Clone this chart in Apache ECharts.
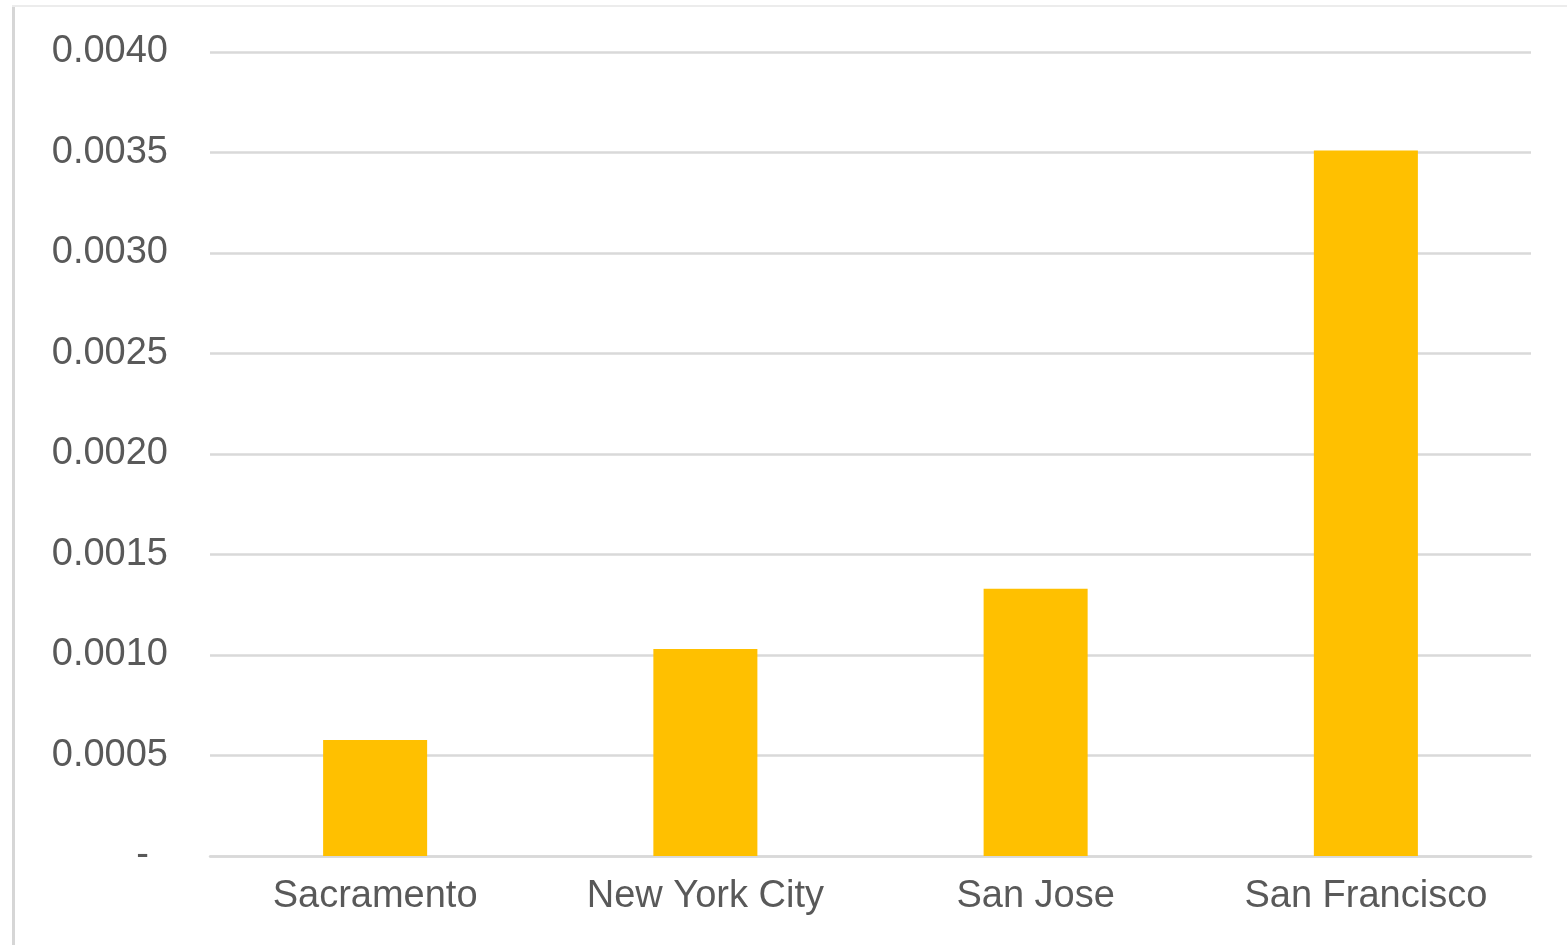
<!DOCTYPE html>
<html>
<head>
<meta charset="utf-8">
<script src="https://cdn.jsdelivr.net/npm/echarts@6/dist/echarts.min.js"></script>
<style>html,body{margin:0;padding:0;background:#fff;}#c{width:1567px;height:945px;}</style>
</head>
<body>
<div id="c"></div>
<script>
const categories = ['Sacramento', 'New York City', 'San Jose', 'San Francisco'];
const values = [0.000577, 0.00103, 0.00133, 0.00351];
const yTicks = [0, 0.0005, 0.001, 0.0015, 0.002, 0.0025, 0.003, 0.0035, 0.004];

const chart = echarts.init(document.getElementById('c'));
const FONT = 'Liberation Sans, Arial, sans-serif';
chart.setOption({
  animation: false,
  backgroundColor: '#fff',
  graphic: [
    { type: 'rect', shape: { x: 12, y: 5, width: 3, height: 940 }, style: { fill: '#d6d6d6' } },
    { type: 'rect', shape: { x: 12, y: 5, width: 1555, height: 2 }, style: { fill: '#ececec' } }
  ],
  grid: { left: 210, right: 36, top: 52, bottom: 89 },
  xAxis: {
    type: 'category',
    data: categories,
    axisLine: { lineStyle: { color: '#d9d9d9', width: 2.5 } },
    axisTick: { show: false },
    axisLabel: { color: '#595959', fontSize: 38, fontFamily: FONT, margin: 22 }
  },
  yAxis: {
    type: 'value',
    min: yTicks[0],
    max: yTicks[yTicks.length - 1],
    interval: 0.0005,
    axisLine: { show: false },
    axisTick: { show: false },
    splitLine: { lineStyle: { color: '#d9d9d9', width: 2.5 } },
    axisLabel: {
      color: '#595959', fontSize: 38, fontFamily: FONT, margin: 42,
      formatter: function (v) { return v === 0 ? '{d|-}' : v.toFixed(4); },
      rich: { d: { color: '#595959', fontSize: 38, fontFamily: FONT, padding: [0, 19, 0, 0] } }
    }
  },
  series: [{
    type: 'bar',
    data: values,
    barWidth: '31.5%',
    itemStyle: { color: '#FFC000' }
  }]
});
</script>
</body>
</html>
